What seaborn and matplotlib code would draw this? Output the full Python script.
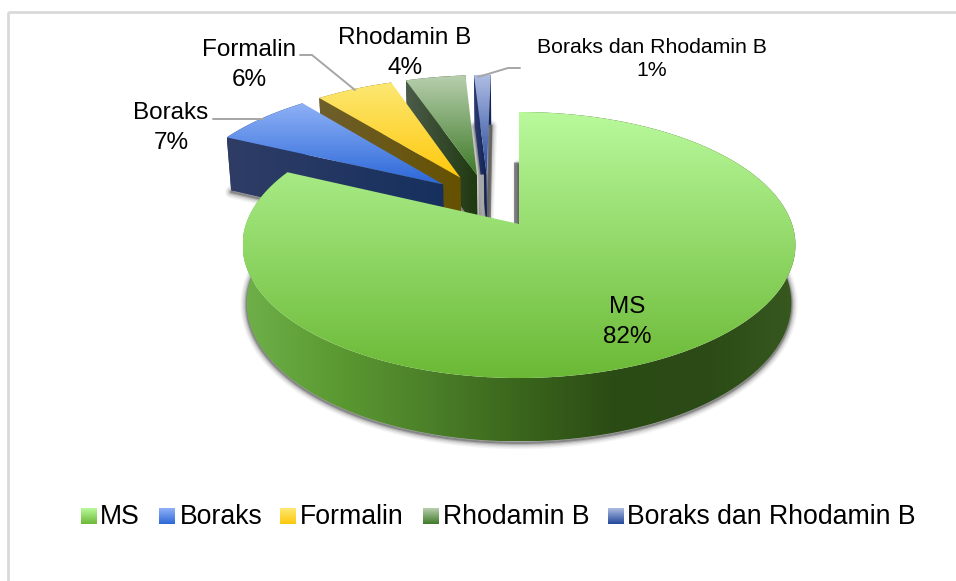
import numpy as np
import matplotlib
matplotlib.use("Agg")
import matplotlib.pyplot as plt
from matplotlib.colors import LinearSegmentedColormap
from matplotlib.patches import Polygon
import seaborn as sns

labels = ["MS", "Boraks", "Formalin", "Rhodamin B", "Boraks dan Rhodamin B"]
# shares, the labels round them
values = [82.0, 7.0, 5.5, 4.3, 1.2]

# gradient colours for top faces and side walls
top_colors = [("#B9F99C", "#6BB936"), ("#90B2F7", "#2C68D8"), ("#FCE873", "#FFC80C"),
              ("#B8CFAE", "#3E7A28"), ("#AEBCE2", "#22479A")]
wall_colors = [["#6FB04A", "#5B9A32", "#4C8029", "#3A661C", "#2C4C15", "#2B4A16", "#37591F"],
               ["#2F3D66", "#16305E"], ["#6E5F2C", "#665100"], ["#4C5C4A", "#1E380F"],
               ["#2B3B72", "#10204F"]]

sns.set_theme(style="white")
plt.rcParams["font.family"] = ["Liberation Sans", "DejaVu Sans"]

fig, ax = plt.subplots(figsize=(9.56, 5.81), dpi=100)
fig.subplots_adjust(0, 0, 1, 1)
ax.set_axis_off()

# pie geometry in pixels, perspective plane centred on the MS apex
cx, cy = 519, 224
width_r = 273
height_r = 129.7
persp = 0.158
depth = 57
explode = 0.22


def project(u, v, low=False):
    s = 1 + persp * v
    x = cx + (0.985 if low else 1.0) * u * width_r / s
    y = cy - height_r * v / s
    if low:
        y = y + depth / (1 + 0.1 * v)
    return np.column_stack([x, y])


def fill_gradient(poly, colors, vertical=True, zorder=2):
    cmap = LinearSegmentedColormap.from_list("g", colors)
    x0, y0 = poly.min(axis=0)
    x1, y1 = poly.max(axis=0)
    grad = np.linspace(0, 1, 256)
    grad = grad[:, None] if vertical else grad[None, :]
    im = ax.imshow(grad, cmap=cmap, extent=(x0, x1, y1, y0), origin="upper",
                   aspect="auto", zorder=zorder, interpolation="bilinear")
    im.set_clip_path(Polygon(poly, closed=True, transform=ax.transData))
    return im


fracs = np.array(values) / sum(values)
edges = np.concatenate([[0], np.cumsum(fracs)]) * 2 * np.pi
mids = (edges[:-1] + edges[1:]) / 2
# the whole pie is exploded, so shift things to keep MS apex at the origin
off_u = -explode * np.sin(mids[0])
off_v = -explode * np.cos(mids[0])

zorder = 2
for i in [4, 3, 2, 1, 0]:
    a = np.linspace(edges[i], edges[i + 1], 160)
    au = off_u + explode * np.sin(mids[i])
    av = off_v + explode * np.cos(mids[i])
    ou = au + np.sin(a)
    ov = av + np.cos(a)
    top_arc = project(ou, ov)
    low_arc = project(ou, ov, low=True)
    apex = project(np.array([au]), np.array([av]))
    apex_low = project(np.array([au]), np.array([av]), low=True)

    # soft ground shadow around the lower outline
    low_poly = np.vstack([apex_low, low_arc])
    for lw, al in [(9, 0.05), (7, 0.08), (5, 0.12), (3, 0.2), (1.5, 0.3)]:
        ax.add_patch(Polygon(low_poly + [0, 1.5], closed=True, fc="none", ec="#303030", lw=lw,
                             alpha=al, zorder=zorder, joinstyle="round"))
    zorder += 1

    # shadow strip beside the right cut edge
    far = top_arc[-1:] if i > 0 else top_arc[:1]
    if i == 4:
        strip = np.vstack([apex + (far - apex) * 0.5, apex_low])
        ax.plot(strip[:, 0] + 1.5, strip[:, 1], color="#555555", lw=3, alpha=0.7,
                zorder=zorder - 1, solid_capstyle="butt")
    if i == 0:
        strip = np.vstack([apex + (far - apex) * 0.55, apex])
        ax.plot(strip[:, 0] - 3, strip[:, 1], color="#555555", lw=3.5, alpha=0.7,
                zorder=zorder - 1, solid_capstyle="butt")

    # outer wall
    wall = np.vstack([top_arc, low_arc[::-1]])
    fill_gradient(wall, wall_colors[i], vertical=False, zorder=zorder)
    # cut wall seen from the front, from the start corner of the arc to the apex
    if i > 0:
        cut = np.vstack([top_arc[:1], apex, apex_low, low_arc[:1]])
        fill_gradient(cut, wall_colors[i], vertical=False, zorder=zorder)
    if i == 4:
        # grey reflection on the thin slice, left of the dark part of the wall
        refl = np.vstack([apex, apex_low])
        ax.plot(refl[:, 0] - 5.5, refl[:, 1], color="#A8A8A8", lw=4, zorder=zorder,
                solid_capstyle="butt")
    zorder += 1

    # top face
    face = np.vstack([apex, top_arc])
    fill_gradient(face, top_colors[i], vertical=True, zorder=zorder)
    zorder += 1

# frame of the chart area
ax.plot([8, 8], [581, 12], color="#D9D9D9", lw=2, zorder=1, solid_capstyle="butt")
ax.plot([8, 956], [12, 12], color="#D9D9D9", lw=2, zorder=1, solid_capstyle="butt")

# leader lines
leader = dict(color="#A6A6A6", lw=1.4, zorder=30, solid_joinstyle="miter")
ax.plot([213, 263], [119, 119], **leader)
ax.plot([300, 312, 355], [55, 55, 90], **leader)
ax.plot([478, 508, 520], [77, 68, 68], **leader)

# data labels
label_pos = [(627, 322), (171, 128), (249, 65), (405, 53), (652, 59)]
label_size = [17.5, 17.5, 17.5, 17.5, 15.3]
for name, val, pos, fs in zip(labels, values, label_pos, label_size):
    ax.text(pos[0], pos[1], f"{name}\n{round(val)}%", ha="center", va="center", fontsize=fs,
            color="black", zorder=40, linespacing=1.45 if fs > 16 else 1.3)

# legend, gradient swatches drawn like the top faces
legend_x = [81, 159, 280, 423, 608]
legend_text_x = [100, 180, 300, 443, 627]
legend_y = 516
for i, name in enumerate(labels):
    x = legend_x[i]
    sw = np.array([[x, legend_y - 8], [x + 16, legend_y - 8],
                   [x + 16, legend_y + 8], [x, legend_y + 8]])
    fill_gradient(sw, top_colors[i], vertical=True, zorder=30)
    ax.text(legend_text_x[i], legend_y + 0.5, name, ha="left", va="center", fontsize=19.2,
            color="black", zorder=40)

ax.set_xlim(0, 956)
ax.set_ylim(581, 0)
fig.savefig("out.png", dpi=100, facecolor="white")
